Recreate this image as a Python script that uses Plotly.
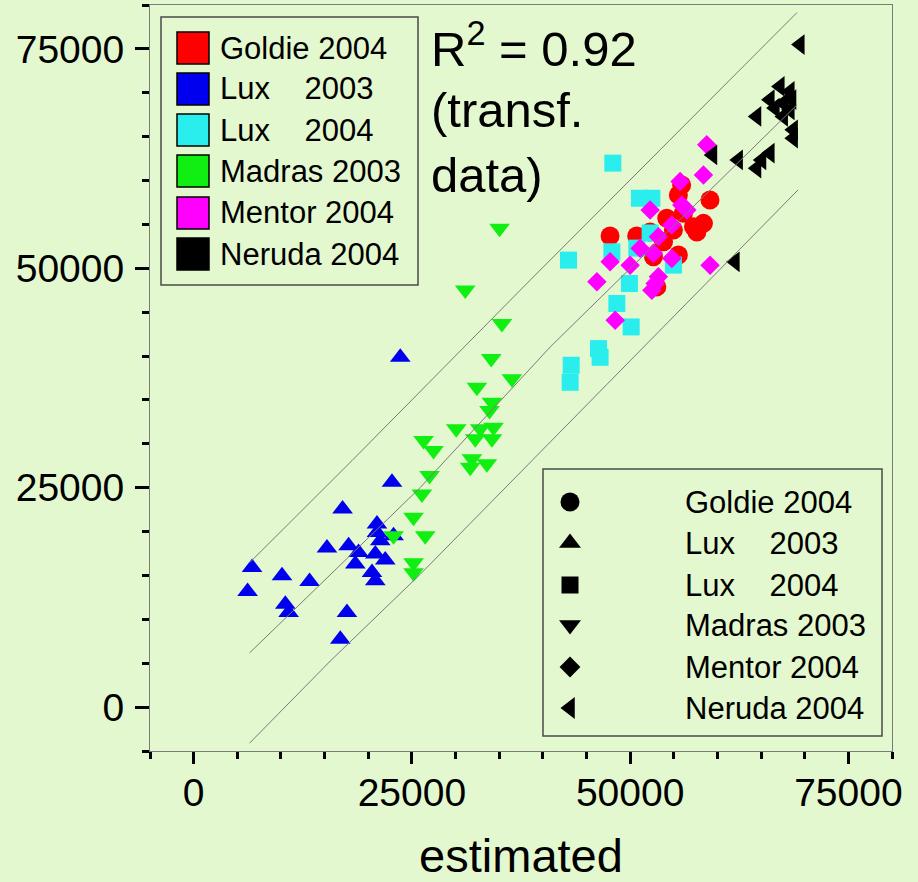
import plotly.graph_objects as go

# ---------------- data ----------------
series_names = ["Goldie 2004", "Lux    2003", "Lux    2004", "Madras 2003", "Mentor 2004", "Neruda 2004"]

goldie_x = [47700, 50750, 55900, 55530, 59150, 54200, 56110, 57260, 58400, 57650, 54960, 52670, 55530, 53830, 53060, 52290]
goldie_y = [53670, 53670, 59500, 58360, 57790, 55700, 56270, 54740, 55120, 54130, 54360, 51310, 51510, 53020, 47880, 54130]

lux03_x = [22720, 17060, 21000, 21000, 21380, 15270, 17750, 18890, 18520, 21950, 20810, 20430, 20810, 6690, 10120, 13280, 6180, 10500, 10880, 17560, 16800, 22900, 23670]
lux03_y = [25620, 22580, 20860, 19900, 18960, 18120, 18390, 17620, 16300, 16750, 17440, 15340, 14390, 15910, 14960, 14310, 13170, 11730, 10770, 10770, 7730, 19530, 39860]

lux04_x = [48020, 51070, 52490, 42940, 47910, 50770, 52290, 54960, 49920, 48480, 50120, 46380, 46560, 43250, 43130]
lux04_y = [61980, 57980, 57980, 50930, 51880, 52300, 54020, 50360, 48270, 45990, 43320, 40850, 39860, 38950, 37010]

madras_x = [35040, 31110, 35310, 34090, 36460, 32450, 34170, 33890, 30080, 32830, 34350, 32260, 34170, 26340, 27480, 31880, 31680, 33590, 27020, 26150, 25190, 26530, 22900, 25190, 25190]
madras_y = [54550, 47520, 43700, 39710, 37420, 36460, 34750, 33800, 31710, 31710, 31900, 30570, 30570, 30380, 29240, 28290, 27330, 27720, 26380, 24290, 21620, 19530, 19530, 16450, 15300]

mentor_x = [58780, 58400, 55730, 52290, 55920, 56500, 54780, 53240, 51150, 52670, 54780, 47710, 50000, 59160, 46190, 53240, 52870, 52490, 48290]
mentor_y = [64070, 60640, 59880, 56640, 57210, 56640, 54930, 53590, 52270, 51700, 51130, 50740, 50360, 50360, 48460, 49030, 48270, 47510, 44080]

neruda_x = [69470, 67180, 68320, 66030, 67560, 68520, 66610, 68320, 64510, 67560, 68700, 68700, 59460, 62400, 66030, 65080, 64510, 62030]
neruda_y = [75490, 70720, 70150, 69210, 68830, 69210, 68260, 68060, 67300, 67300, 65780, 64830, 62920, 62350, 63120, 62350, 61410, 50740]

# regression line and prediction band
fit_upper_x = [6400, 18140, 38550, 69120]
fit_upper_y = [16450, 28090, 48650, 79140]
fit_mid_x = [6400, 25980, 40840, 62220, 69120]
fit_mid_y = [6170, 25040, 41030, 61980, 68630]
fit_lower_x = [6400, 15650, 25980, 69240]
fit_lower_y = [-4110, 5250, 15160, 58930]

x_ticks = [0, 25000, 50000, 75000]
y_ticks = [0, 25000, 50000, 75000]
r2_lines = ["R<sup>2</sup> = 0.92", "(transf.", "data)"]

# ---------------- styling ----------------
colors = ["#ff0000", "#0000ee", "#2aeeee", "#11ee11", "#ff00ff", "#000000"]
symbols = ["circle", "triangle-up", "square", "triangle-down", "diamond", "triangle-left"]
sizes = [19, 18, 17, 18, 15, 18]
BG = "#e4f8cf"
FONT = "Liberation Sans, Arial, sans-serif"

W, H = 918, 882
L, R, T, B = 150, 26, 5, 131
PW, PH = W - L - R, H - T - B


def px(xp):
    return (xp - L) / PW


def py(yp):
    return (H - B - yp) / PH


xs = [goldie_x, lux03_x, lux04_x, madras_x, mentor_x, neruda_x]
ys = [goldie_y, lux03_y, lux04_y, madras_y, mentor_y, neruda_y]

fig = go.Figure()
for name, x, y, c, s, sz in zip(series_names, xs, ys, colors, symbols, sizes):
    fig.add_trace(go.Scatter(x=x, y=y, mode="markers", name=name.replace(" ", "\u00a0"),
                             marker=dict(color=c, symbol=s, size=sz, line=dict(width=0)),
                             showlegend=False))

for fx, fy in [(fit_upper_x, fit_upper_y), (fit_mid_x, fit_mid_y), (fit_lower_x, fit_lower_y)]:
    fig.add_trace(go.Scatter(x=fx, y=fy, mode="lines", line=dict(color="#7a7a7a", width=1),
                             showlegend=False, hoverinfo="skip"))

# ---------------- legends drawn by hand ----------------
shapes = []
annotations = []

# legend 1: colour boxes
shapes.append(dict(type="rect", xref="paper", yref="paper", x0=px(161), x1=px(418), y0=py(285), y1=py(17),
                   line=dict(color="#4a4a4a", width=1.5), fillcolor="rgba(0,0,0,0)"))
rows1 = [48, 89, 130, 171, 213, 254]
for name, c, yc in zip(series_names, colors, rows1):
    shapes.append(dict(type="rect", xref="paper", yref="paper", x0=px(177), x1=px(209),
                       y0=py(yc + 16), y1=py(yc - 16), line=dict(color="#000000", width=1.5), fillcolor=c))
    annotations.append(dict(xref="paper", yref="paper", x=px(218), y=py(yc), xanchor="left", yanchor="middle",
                            text=name.replace(" ", "\u00a0"), showarrow=False,
                            font=dict(size=31, color="black", family=FONT)))

# legend 2: symbols
shapes.append(dict(type="rect", xref="paper", yref="paper", x0=px(543), x1=px(882), y0=py(736), y1=py(469),
                   line=dict(color="#4a4a4a", width=1.5), fillcolor="rgba(0,0,0,0)"))
rows2 = [502, 543, 585, 625, 667, 708]
leg2_sizes = [19, 19, 17, 19, 16, 19]
for i, (name, s, yc) in enumerate(zip(series_names, symbols, rows2)):
    fig.add_trace(go.Scatter(x=[px(570)], y=[py(yc)], xaxis="x2", yaxis="y2", mode="markers",
                             marker=dict(color="black", symbol=s, size=leg2_sizes[i], line=dict(width=0)),
                             showlegend=False, hoverinfo="skip"))
    annotations.append(dict(xref="paper", yref="paper", x=px(683), y=py(yc), xanchor="left", yanchor="middle",
                            text=name.replace(" ", "\u00a0"), showarrow=False,
                            font=dict(size=31, color="black", family=FONT)))

# R^2 text, one line per annotation
for txt, yc in zip(r2_lines, [45, 110, 175]):
    annotations.append(dict(xref="paper", yref="paper", x=px(429), y=py(yc), xanchor="left", yanchor="middle",
                            align="left", text=txt, showarrow=False,
                            font=dict(size=49, color="black", family=FONT)))

axis_common = dict(
    range=[-5000, 80000], showgrid=False, zeroline=False,
    showline=True, linecolor="#7a7a7a", linewidth=1, mirror=True,
    ticks="outside", tickwidth=3, tickcolor="black",
    tickfont=dict(size=39, color="black", family=FONT),
    minor=dict(dtick=5000, tick0=0, ticks="outside", ticklen=7, tickwidth=3, tickcolor="black"),
)

fig.update_layout(
    width=W, height=H,
    margin=dict(l=L, r=R, t=T, b=B, pad=0, autoexpand=False),
    paper_bgcolor=BG, plot_bgcolor=BG,
    font=dict(family=FONT, color="black"),
    showlegend=False,
    xaxis=dict(**axis_common, tickmode="array", tickvals=x_ticks, ticktext=[str(v) for v in x_ticks],
               ticklen=12, ticklabelstandoff=-5, automargin=False,
               title=dict(text="estimated", font=dict(size=47, color="black", family=FONT), standoff=27)),
    yaxis=dict(**axis_common, tickmode="array", tickvals=y_ticks, ticktext=[str(v) for v in y_ticks],
               ticklen=14, ticklabelstandoff=3, automargin=False),
    xaxis2=dict(overlaying="x", range=[0, 1], visible=False, fixedrange=True),
    yaxis2=dict(overlaying="y", range=[0, 1], visible=False, fixedrange=True),
    shapes=shapes,
    annotations=annotations,
)

fig.write_html(
    "out.html",
    config={"displayModeBar": False},
    post_script="document.body.style.margin='0';document.body.style.padding='0';"
                "document.body.style.background='" + BG + "';",
)
